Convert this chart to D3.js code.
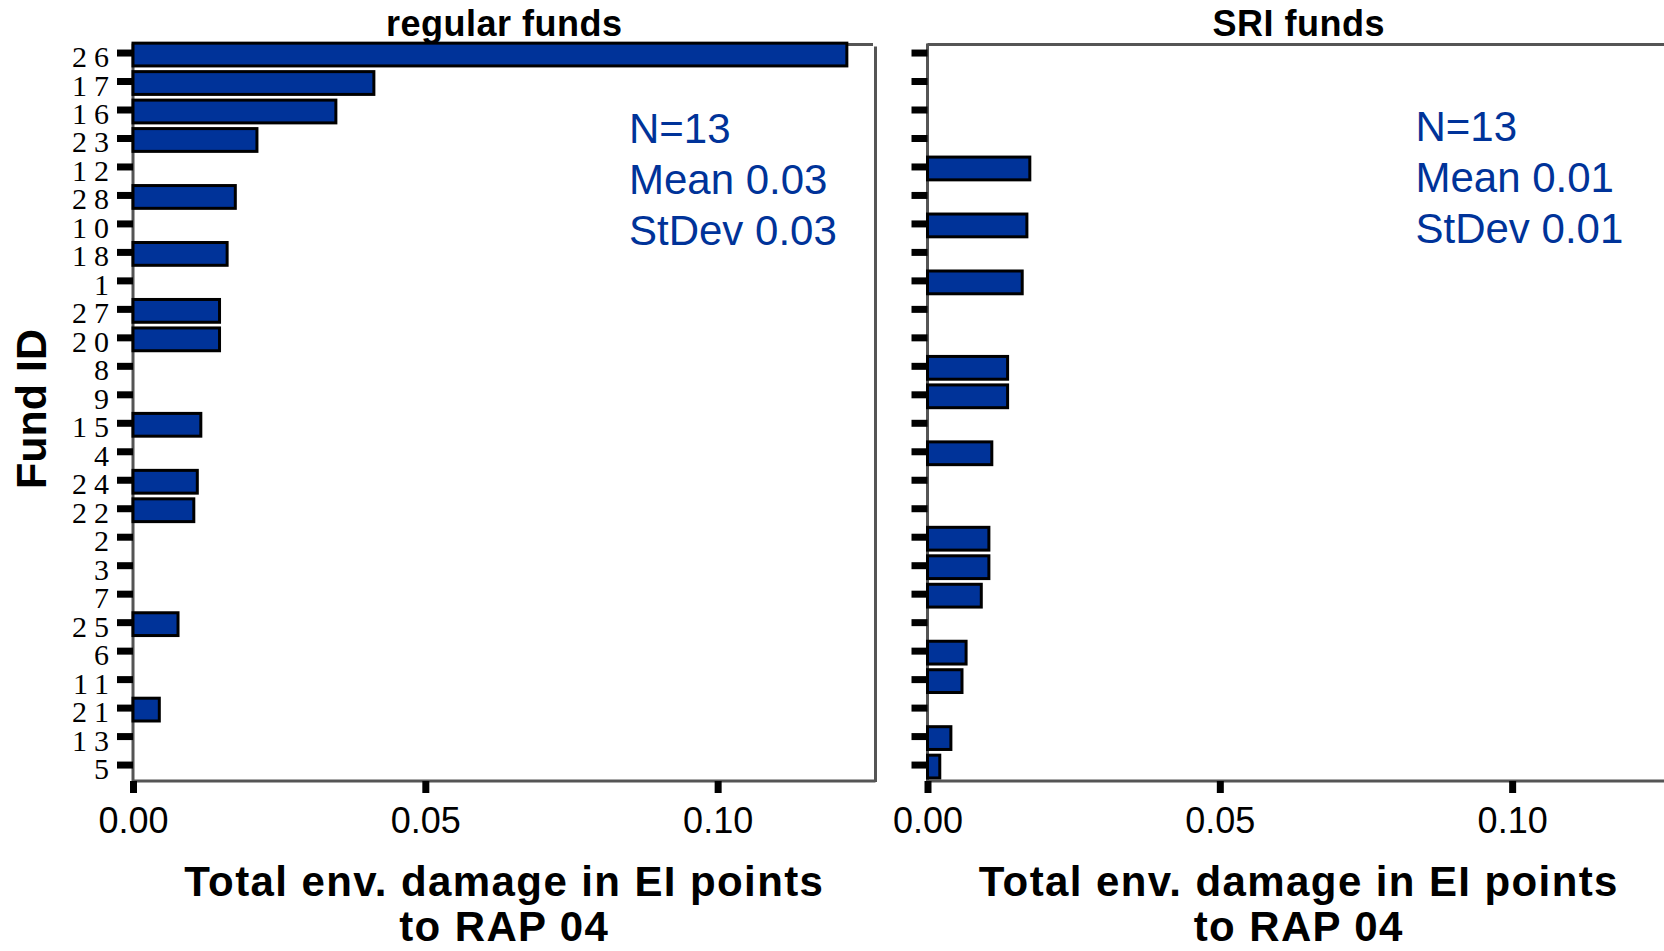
<!DOCTYPE html>
<html>
<head>
<meta charset="utf-8">
<script src="https://cdn.jsdelivr.net/npm/d3@7"></script>
<style>
  body { margin: 0; background: #fff; }
  text { font-family: Arial, "Liberation Sans", sans-serif; }
</style>
</head>
<body>
<div id="chart"></div>
<script>
// fund IDs from top to bottom (shared by both panels)
const fundIds = ["26","17","16","23","12","28","10","18","1","27","20","8","9",
                 "15","4","24","22","2","3","7","25","6","11","21","13","5"];

// regular funds
const regularIds = ["26","17","16","23","28","18","27","20","15","24","22","25","21"];
const regularValues = [0.1221, 0.0412, 0.0347, 0.0212, 0.0175, 0.0161, 0.0148, 0.0148, 0.0116, 0.0110, 0.0104, 0.0077, 0.0045];

// SRI funds
const sriIds = ["12","10","1","8","9","4","2","3","7","6","11","13","5"];
const sriValues = [0.0175, 0.0170, 0.0162, 0.0137, 0.0137, 0.0110, 0.0105, 0.0105, 0.0092, 0.0066, 0.0059, 0.0040, 0.0021];

const xTicks = [0, 0.05, 0.10];
const panelTitles = ["regular funds", "SRI funds"];
const statsRegular = ["N=13", "Mean 0.03", "StDev 0.03"];
const statsSri = ["N=13", "Mean 0.01", "StDev 0.01"];
const xTitle = ["Total env. damage in EI points", "to RAP 04"];

// layout
var width = 1664, height = 951;
var plotTop = 44.5, plotBottom = 781;
var panelLeft = [133, 927.5], panelWidth = 742.5;
var barColor = "#003399", frameColor = "#555";

const svg = d3.select("#chart")
  .append("svg")
    .attr("width", width)
    .attr("height", height);

// y scale shared by both panels
const y = d3.scaleBand()
  .domain(fundIds)
  .range([38.8, 779.3])
  .paddingInner(0.2)
  .paddingOuter(0.1);

function drawPanel(i, ids, values, stats, statsY) {
  var x0 = panelLeft[i];
  const x = d3.scaleLinear()
    .domain([0, 0.127])
    .range([x0, x0 + panelWidth]);

  const g = svg.append("g");
  var right = Math.min(x.range()[1], width);

  // frame lines
  g.append("line").attr("x1", x0).attr("x2", i == 0 ? right - 2.5 : right)
    .attr("y1", plotTop).attr("y2", plotTop)
    .attr("stroke", frameColor).attr("stroke-width", 3);
  g.append("line").attr("x1", x0).attr("x2", right)
    .attr("y1", plotBottom).attr("y2", plotBottom)
    .attr("stroke", frameColor).attr("stroke-width", 3);
  g.append("line").attr("x1", x0).attr("x2", x0)
    .attr("y1", plotTop - 1).attr("y2", plotBottom + 1)
    .attr("stroke", frameColor).attr("stroke-width", 3);
  if (i == 0) {
    g.append("line").attr("x1", right).attr("x2", right)
      .attr("y1", plotTop + 2).attr("y2", plotBottom + 1)
      .attr("stroke", frameColor).attr("stroke-width", 3);
  }

  // y axis (labels only on the left panel)
  const yAxis = g.append("g")
    .attr("transform", `translate(${x0},0)`)
    .call(d3.axisLeft(y).tickSize(16).tickSizeOuter(0).tickPadding(0));
  yAxis.select(".domain").remove();
  yAxis.selectAll(".tick line")
    .attr("stroke", "#000")
    .attr("stroke-width", 7);
  if (i == 0) {
    yAxis.selectAll(".tick text")
      .attr("x", -17)
      .attr("dy", 14)
      .style("font-family", "'Liberation Serif', 'Times New Roman', serif")
      .style("font-size", "30px")
      .style("letter-spacing", "7px")
      .attr("fill", "#000");
  } else {
    yAxis.selectAll(".tick text").remove();
  }

  // x axis
  const xAxis = g.append("g")
    .attr("transform", `translate(0,${plotBottom})`)
    .call(d3.axisBottom(x).tickValues(xTicks).tickSize(12).tickSizeOuter(0)
      .tickPadding(14).tickFormat(d3.format(".2f")));
  xAxis.select(".domain").remove();
  xAxis.selectAll(".tick line")
    .attr("stroke", "#000")
    .attr("stroke-width", 7);
  xAxis.selectAll(".tick text")
    .style("font-size", "36px")
    .attr("fill", "#000");

  // bars
  g.selectAll("rect.bar")
    .data(values)
    .join("rect")
      .attr("class", "bar")
      .attr("x", x(0))
      .attr("y", (d, j) => y(ids[j]) + 1.5)
      .attr("width", d => x(d) - x(0))
      .attr("height", y.bandwidth())
      .attr("fill", barColor)
      .attr("stroke", "#000")
      .attr("stroke-width", 3);

  // panel title
  g.append("text")
    .attr("x", x0 + panelWidth / 2)
    .attr("y", 36)
    .attr("text-anchor", "middle")
    .style("font-size", "36px")
    .style("font-weight", "bold")
    .style("letter-spacing", "0.5px")
    .text(panelTitles[i]);

  // stats
  g.selectAll("text.stat")
    .data(stats)
    .join("text")
      .attr("class", "stat")
      .attr("x", x0 + (i == 0 ? 496 : 488))
      .attr("y", (d, j) => statsY + j * 51)
      .attr("fill", barColor)
      .style("font-size", "42px")
      .text(d => d);

  // x title
  g.selectAll("text.xtitle")
    .data(xTitle)
    .join("text")
      .attr("class", "xtitle")
      .attr("x", x0 + panelWidth / 2)
      .attr("y", (d, j) => 896 + j * 45)
      .attr("text-anchor", "middle")
      .style("font-size", "42px")
      .style("font-weight", "bold")
      .style("letter-spacing", "1.4px")
      .text(d => d);
}

drawPanel(0, regularIds, regularValues, statsRegular, 143);
drawPanel(1, sriIds, sriValues, statsSri, 141);

// y axis title
svg.append("text")
  .attr("transform", "translate(46,409) rotate(-90)")
  .attr("text-anchor", "middle")
  .style("font-size", "43px")
  .style("font-weight", "bold")
  .text("Fund ID");
</script>
</body>
</html>
